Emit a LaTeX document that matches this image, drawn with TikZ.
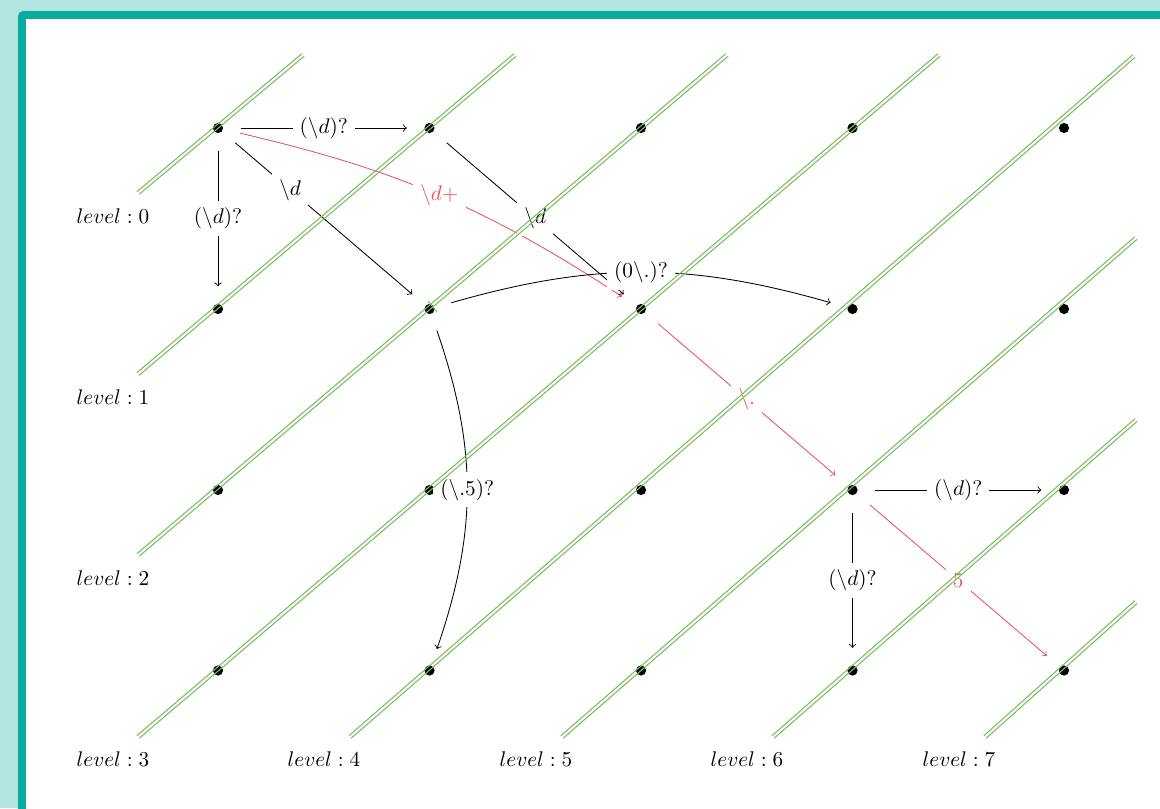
\documentclass[tikz,border=0pt]{standalone}
\definecolor{bgc}{RGB}{179,229,224}
\definecolor{tealc}{RGB}{8,172,158}
\definecolor{grn}{RGB}{122,190,98}
\definecolor{redc}{RGB}{232,84,94}
\begin{document}
\begin{tikzpicture}[x=0.016556cm, y=0.016556cm,
  dotn/.style={circle, minimum size=21pt, inner sep=0pt,
    path picture={\fill[black] (path picture bounding box.center) circle (2.4pt);}},
  elbl/.style={fill=white},
  arr/.style={->, black},
  redarr/.style={->, redc},
  gline/.style={grn, line width=0.5pt}]
\useasboundingbox (0,0) rectangle (1160,-808);
\begin{scope}
  \clip (0,0) rectangle (1160,-808);
  \fill[bgc] (0,0) rectangle (1160,-808);
  \fill[tealc, rounded corners=2.5pt] (18,-11) rectangle (1220,-860);
  \fill[white] (26,-19) rectangle (1220,-860);
\end{scope}
% grid of states
\foreach \c/\x in {0/218,1/429.5,2/641,3/852.5,4/1064}{
  \foreach \r/\y in {0/128,1/309,2/490,3/670.5}{
    \node[dotn] (n\c\r) at (\x,-\y) {};
  }
}
% level labels
\node (l0) at (113,-216) {$level:0$};
\node (l1) at (113,-397) {$level:1$};
\node (l2) at (113,-578) {$level:2$};
\node (l3) at (113,-759) {$level:3$};
\node (l4) at (324,-759) {$level:4$};
\node (l5) at (536,-759) {$level:5$};
\node (l6) at (747,-759) {$level:6$};
\node (l7) at (959,-759) {$level:7$};
% transitions
\draw[arr] (n00) -- node[elbl]{$(\backslash d)?$} (n10);
\draw[arr] (n00) -- node[elbl]{$(\backslash d)?$} (n01);
\draw[arr] (n00) -- node[elbl, pos=0.31]{$\backslash d$} (n11);
\draw[redarr] (n00) to[bend left=10] node[elbl, text=redc]{$\backslash d+$} (n21);
\draw[arr] (n10) -- node[elbl]{$\backslash d$} (n21);
\draw[arr] (n11) to[bend left=16] node[elbl]{$(0\backslash .)?$} (n31);
\draw[arr] (n11) to[bend left=19] node[elbl]{$(\backslash .5)?$} (n13);
\draw[redarr] (n21) -- node[elbl, text=redc]{$\backslash .$} (n32);
\draw[arr] (n32) -- node[elbl]{$(\backslash d)?$} (n42);
\draw[arr] (n32) -- node[elbl]{$(\backslash d)?$} (n33);
\draw[redarr] (n32) -- node[elbl, text=redc]{$5$} (n43);
% level lines (double green)
\foreach \ax/\ay/\bx/\by in {138/193/303/55, 138/374/515/55, 138/555/727/55, 138/737/939/55,
    350/737/1134/56, 562/737/1136/238, 773/737/1136/420, 985/737/1136/602}{
  \draw[gline, shift={(-1.1,1.3)}] (\ax,-\ay) -- (\bx,-\by);
  \draw[gline, shift={(1.1,-1.3)}] (\ax,-\ay) -- (\bx,-\by);
}
\draw[gline] (428,-301) -- (437,-312);
\end{tikzpicture}
\end{document}
